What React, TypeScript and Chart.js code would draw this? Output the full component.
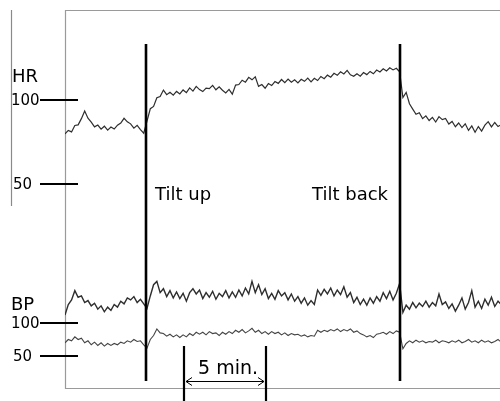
import React, { useEffect, useRef } from "react";
import { Chart, registerables } from "chart.js";

Chart.register(...registerables);

// sampling interval of the traces, minutes
const SAMPLE_STEP_MIN = 0.2;

// Heart rate (bpm)
const hrBpm = [
  79.8, 81.9, 81.0, 84.8, 85.2, 88.9, 93.5, 89.2, 86.8, 84.0,
  85.1, 82.6, 84.4, 82.1, 83.9, 82.7, 85.0, 86.3, 89.1, 87.0,
  85.8, 83.2, 84.9, 82.4, 80.2,
  87.5, 94.8, 96.2, 101.3, 102.1, 105.9, 103.2, 104.6, 102.9, 105.1,
  103.6, 106.0, 104.4, 107.2, 105.3, 108.1, 106.2, 105.0, 107.1, 106.8,
  108.7, 106.1, 107.9, 105.8, 104.2, 106.3,
  103.5, 108.9, 109.2, 111.8, 110.6, 113.5, 112.0, 113.8, 108.1, 109.2,
  107.0, 109.8, 108.6, 111.0, 109.9, 112.2, 110.3, 112.5, 110.6, 112.0,
  110.2, 112.3, 111.1, 113.0, 110.8,
  112.9, 111.6, 114.0, 112.7, 114.8, 113.6, 115.9, 114.7, 116.8, 115.5,
  117.6, 115.0, 114.1, 115.6, 114.2, 116.3, 115.1, 117.0, 115.6, 117.8,
  116.7, 118.6, 117.3, 119.2, 117.9, 118.9, 116.8,
  101.5, 104.5, 97.8, 94.6, 91.5, 92.4, 88.9, 90.6, 87.8, 89.7,
  86.9, 90.1, 88.3, 89.0, 85.7, 87.2, 84.1, 86.3, 83.6, 85.8,
  81.9, 84.6, 80.8, 84.2, 81.5, 85.0, 87.1, 84.0, 86.6, 84.2,
  85.3,
];

// Systolic blood pressure (mmHg)
const bpSystolic = [
  112, 128, 135, 149, 139, 141, 131, 134, 126, 130,
  121, 126, 117, 124, 119, 128, 124, 133, 129, 138,
  135, 140, 131, 136, 129,
  122, 141, 158, 163, 146, 152, 140, 149, 138, 147,
  137, 145, 133, 146, 152, 144, 150, 137, 146, 139,
  148, 136, 145, 140, 149, 138,
  147, 139, 150, 141, 153, 144, 163, 146, 158, 143,
  152, 137, 145, 136, 149, 141, 146, 135, 144, 133,
  140, 130, 138, 127, 134,
  128, 150, 142, 151, 144, 153, 141, 150, 143, 155,
  139, 146, 131, 139, 128, 136, 127, 138, 130, 140,
  133, 146, 137, 148, 135, 145, 160,
  116, 127, 121, 131, 123, 130, 125, 133, 124, 131,
  126, 144, 128, 132, 122, 129, 118, 127, 138, 121,
  131, 149, 124, 133, 122, 136, 127, 139, 125, 133,
  128,
];

// Diastolic blood pressure (mmHg)
const bpDiastolic = [
  70, 75, 73, 79, 75, 77, 70, 73, 67, 71,
  66, 70, 65, 69, 66, 69, 67, 71, 69, 73,
  71, 75, 72, 73, 67,
  62, 75, 81, 91, 85, 84, 80, 83, 79, 82,
  78, 82, 79, 84, 81, 86, 83, 86, 82, 87,
  84, 85, 81, 86, 83, 87,
  84, 89, 86, 90, 85, 88, 92, 86, 89, 84,
  87, 83, 87, 84, 86, 82, 85, 81, 84, 82,
  83, 80, 82, 79, 81,
  80, 89, 86, 89, 87, 90, 88, 91, 87, 90,
  88, 91, 86, 88, 84, 82, 79, 81, 78, 83,
  84, 86, 83, 87, 84, 88, 86,
  61, 69, 73, 70, 74, 71, 73, 70, 72, 71,
  74, 70, 73, 72, 70, 73, 71, 74, 70, 72,
  75, 71, 73, 70, 74, 71, 73, 70, 72, 75,
  71,
];

const hrTicks = [100, 50];
const bpTicks = [100, 50];
const hrTitle = "HR";
const bpTitle = "BP";

// events (minutes from trace start)
const eventTimes = [4.94, 20.43];
const eventLabels = ["Tilt up", "Tilt back"];

// time scale bar (minutes)
const scaleBarTimes = [7.26, 12.26];
const scaleBarLabel = "5 min.";

const FONT = "'DejaVu Sans', Verdana, sans-serif";

const toPoints = (arr: number[]) =>
  arr.map((v, i) => ({ x: i * SAMPLE_STEP_MIN, y: v }));

const decorations = {
  id: "decorations",
  beforeDatasetsDraw(chart: any) {
    const { ctx, chartArea } = chart;
    ctx.save();
    ctx.strokeStyle = "#9a9a9a";
    ctx.lineWidth = 1.2;
    ctx.beginPath();
    // frame (left, top, bottom)
    ctx.moveTo(chartArea.right, chartArea.top + 0.5);
    ctx.lineTo(chartArea.left + 0.5, chartArea.top + 0.5);
    ctx.lineTo(chartArea.left + 0.5, chartArea.bottom + 0.5);
    ctx.lineTo(chartArea.right, chartArea.bottom + 0.5);
    ctx.stroke();
    // HR bracket line at far left
    ctx.strokeStyle = "#8a8a8a";
    ctx.beginPath();
    ctx.moveTo(11.5, chartArea.top);
    ctx.lineTo(11.5, 206);
    ctx.stroke();
    ctx.restore();
  },
  afterDatasetsDraw(chart: any) {
    const { ctx, scales } = chart;
    const xs = scales.x;
    const yHR = scales.yHR;
    const yBP = scales.yBP;
    ctx.save();
    ctx.fillStyle = "#000";
    ctx.strokeStyle = "#000";

    // event lines
    ctx.lineWidth = 2.6;
    eventTimes.forEach((t, i) => {
      const x = Math.round(xs.getPixelForValue(t));
      ctx.beginPath();
      ctx.moveTo(x, 44);
      ctx.lineTo(x, 381);
      ctx.stroke();
      ctx.font = `18px ${FONT}`;
      ctx.textBaseline = "alphabetic";
      if (i === 0) {
        ctx.textAlign = "left";
        ctx.fillText(eventLabels[i], x + 9, 200);
      } else {
        ctx.textAlign = "right";
        ctx.fillText(eventLabels[i], x - 12, 200);
      }
    });

    // y tick marks and labels
    const drawTicks = (scale: any, ticks: number[]) => {
      ticks.forEach((v) => {
        const y = Math.round(scale.getPixelForValue(v));
        ctx.lineWidth = 2.2;
        ctx.beginPath();
        ctx.moveTo(40, y);
        ctx.lineTo(78, y);
        ctx.stroke();
        ctx.font = `15px ${FONT}`;
        ctx.textAlign = "left";
        ctx.textBaseline = "middle";
        ctx.fillText(String(v), String(v).length > 2 ? 11 : 13, y + 1);
      });
    };
    drawTicks(yHR, hrTicks);
    drawTicks(yBP, bpTicks);

    ctx.font = `18px ${FONT}`;
    ctx.textAlign = "left";
    ctx.textBaseline = "alphabetic";
    ctx.fillText(hrTitle, 12, 82);
    ctx.fillText(bpTitle, 11, 310);

    // time scale bar
    const x1 = Math.round(xs.getPixelForValue(scaleBarTimes[0]));
    const x2 = Math.round(xs.getPixelForValue(scaleBarTimes[1]));
    ctx.lineWidth = 2.2;
    ctx.beginPath();
    ctx.moveTo(x1, 346);
    ctx.lineTo(x1, 402);
    ctx.moveTo(x2, 346);
    ctx.lineTo(x2, 402);
    ctx.stroke();
    const ay = 381.5;
    ctx.lineWidth = 1;
    ctx.beginPath();
    ctx.moveTo(x1 + 2, ay);
    ctx.lineTo(x2 - 2, ay);
    ctx.moveTo(x1 + 8, ay - 4);
    ctx.lineTo(x1 + 2, ay);
    ctx.lineTo(x1 + 8, ay + 4);
    ctx.moveTo(x2 - 8, ay - 4);
    ctx.lineTo(x2 - 2, ay);
    ctx.lineTo(x2 - 8, ay + 4);
    ctx.stroke();
    ctx.font = `19px ${FONT}`;
    ctx.textAlign = "center";
    ctx.fillText(scaleBarLabel, (x1 + x2) / 2 + 3, 374);

    ctx.restore();
  },
};

export default function App() {
  const ref = useRef<HTMLCanvasElement | null>(null);

  useEffect(() => {
    if (!ref.current) return;
    const chart = new Chart(ref.current, {
      type: "line",
      data: {
        datasets: [
          {
            label: "HR",
            data: toPoints(hrBpm),
            yAxisID: "yHR",
            borderColor: "#2e2e2e",
            borderWidth: 1.2,
            pointRadius: 0,
            tension: 0,
          },
          {
            label: "Systolic BP",
            data: toPoints(bpSystolic),
            yAxisID: "yBP",
            borderColor: "#2e2e2e",
            borderWidth: 1.4,
            pointRadius: 0,
            tension: 0,
          },
          {
            label: "Diastolic BP",
            data: toPoints(bpDiastolic),
            yAxisID: "yBP",
            borderColor: "#444",
            borderWidth: 1.1,
            pointRadius: 0,
            tension: 0,
          },
        ],
      },
      options: {
        animation: false,
        responsive: false,
        devicePixelRatio: 1,
        layout: { padding: { left: 65, top: 10, right: 0, bottom: 13 } },
        plugins: { legend: { display: false }, tooltip: { enabled: false } },
        scales: {
          x: { type: "linear", display: false, min: 0, max: 26.52 },
          yHR: { type: "linear", display: false, min: -71.43, max: 153.57 },
          yBP: { type: "linear", display: false, min: 1.52, max: 574.24 },
        },
      },
      plugins: [decorations],
    });
    return () => chart.destroy();
  }, []);

  return (
    <div style={{ position: "absolute", left: 0, top: 0, width: 500, height: 401, background: "#fff" }}>
      <canvas ref={ref} width={500} height={401} />
    </div>
  );
}
